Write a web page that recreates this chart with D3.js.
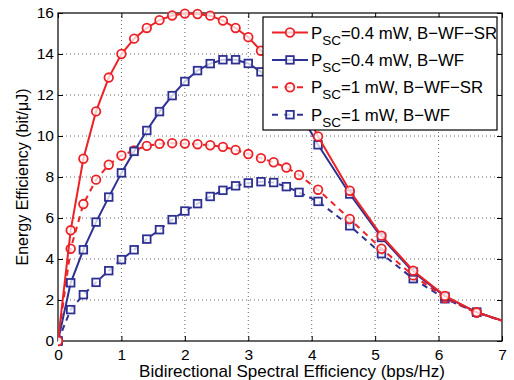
<!DOCTYPE html>
<html>
<head>
<meta charset="utf-8">
<script src="https://cdn.jsdelivr.net/npm/d3@7"></script>
<style>
  body { margin: 0; background: #fff; }
  svg { font-family: "Liberation Sans", Arial, Helvetica, sans-serif; }
</style>
</head>
<body>
<svg id="chart" width="514" height="380"></svg>
<script>
// spectral efficiency samples (bps/Hz)
var xVals = [0, 0.2, 0.4, 0.6, 0.8, 1.0, 1.2, 1.4, 1.6, 1.8, 2.0, 2.2, 2.4, 2.6, 2.8, 3.0, 3.2, 3.4, 3.6, 3.8, 4.1, 4.6, 5.1, 5.6, 6.1, 6.6, 7];

// energy efficiency (bit/uJ)
var redSolid  = [0, 5.4, 8.89, 11.2, 12.85, 14.0, 14.75, 15.27, 15.65, 15.88, 15.97, 15.95, 15.87, 15.63, 15.27, 14.82, 14.16, 13.45, 12.7, 11.85, 9.98, 7.33, 5.14, 3.43, 2.2, 1.4, 1.0];
var blueSolid = [0, 2.84, 4.45, 5.8, 7.02, 8.2, 9.25, 10.27, 11.19, 11.97, 12.66, 13.19, 13.53, 13.72, 13.72, 13.54, 13.13, 12.6, 11.95, 11.2, 9.57, 7.17, 5.05, 3.37, 2.17, 1.4, 1.0];
var redDash   = [0, 4.5, 6.68, 7.87, 8.6, 9.05, 9.3, 9.52, 9.62, 9.65, 9.63, 9.6, 9.55, 9.47, 9.32, 9.12, 8.92, 8.72, 8.46, 8.1, 7.38, 5.95, 4.5, 3.2, 2.1, 1.37, 0.99];
var blueDash  = [0, 1.53, 2.26, 2.86, 3.43, 3.97, 4.45, 4.97, 5.43, 5.92, 6.34, 6.7, 7.05, 7.35, 7.57, 7.71, 7.77, 7.73, 7.53, 7.25, 6.81, 5.62, 4.26, 3.04, 2.06, 1.4, 0.99];

var xTicks = [0, 1, 2, 3, 4, 5, 6, 7];
var yTicks = [0, 2, 4, 6, 8, 10, 12, 14, 16];

var seriesNames = ["=0.4 mW, B\u2212WF\u2212SR", "=0.4 mW, B\u2212WF", "=1 mW, B\u2212WF\u2212SR", "=1 mW, B\u2212WF"];

var RED = "#ec2227", BLUE = "#2e3192";

var series = [
  {name: seriesNames[0], values: redSolid,  color: RED,  dash: null,  marker: "circle"},
  {name: seriesNames[1], values: blueSolid, color: BLUE, dash: null,  marker: "square"},
  {name: seriesNames[2], values: redDash,   color: RED,  dash: "6,5", marker: "circle"},
  {name: seriesNames[3], values: blueDash,  color: BLUE, dash: "6,5", marker: "square"}
];

var margin = {left: 58, right: 12, top: 13, bottom: 39};
var width = 514, height = 380;

var svg = d3.select("#chart");

var x = d3.scaleLinear().domain([0, 7]).range([margin.left, width - margin.right]);
var y = d3.scaleLinear().domain([0, 16]).range([height - margin.bottom, margin.top]);

// dotted grid
var grid = svg.append("g").attr("class", "grid");
grid.selectAll(".gx").data(xTicks.slice(1, -1)).enter().append("line")
  .attr("x1", d => x(d)).attr("x2", d => x(d))
  .attr("y1", y(0)).attr("y2", y(16))
  .attr("stroke", "#666").attr("stroke-width", 1).attr("stroke-dasharray", "1,3");
grid.selectAll(".gy").data(yTicks.slice(1, -1)).enter().append("line")
  .attr("y1", d => y(d)).attr("y2", d => y(d))
  .attr("x1", x(0)).attr("x2", x(7))
  .attr("stroke", "#666").attr("stroke-width", 1).attr("stroke-dasharray", "1,3");

// axes with inward ticks
var fontSize = 15.5;
var xAxis = svg.append("g").attr("transform", "translate(0," + y(0) + ")")
  .call(d3.axisBottom(x).tickValues(xTicks).tickSize(-5).tickPadding(8).tickFormat(d3.format("d")));
var yAxis = svg.append("g").attr("transform", "translate(" + x(0) + ",0)")
  .call(d3.axisLeft(y).tickValues(yTicks).tickSize(-5).tickPadding(4).tickFormat(d3.format("d")));
var xTop = svg.append("g").attr("transform", "translate(0," + y(16) + ")")
  .call(d3.axisTop(x).tickValues(xTicks).tickSize(-5).tickFormat(""));
var yRight = svg.append("g").attr("transform", "translate(" + x(7) + ",0)")
  .call(d3.axisRight(y).tickValues(yTicks).tickSize(-5).tickFormat(""));

[xAxis, yAxis, xTop, yRight].forEach(function(a) {
  a.select(".domain").remove();
  a.selectAll("line").attr("stroke", "#000").attr("stroke-width", 1);
  a.selectAll("text").attr("font-size", fontSize).attr("fill", "#000")
    .attr("font-family", "'Liberation Sans', Arial, sans-serif");
});

// axes box
svg.append("rect")
  .attr("x", x(0)).attr("y", y(16))
  .attr("width", x(7) - x(0)).attr("height", y(0) - y(16))
  .attr("fill", "none").attr("stroke", "#000").attr("stroke-width", 1.2);

var line = d3.line().x((d, i) => x(xVals[i])).y(d => y(d));

svg.append("clipPath").attr("id", "plotclip").append("rect")
  .attr("x", x(0)).attr("y", y(16) - 6).attr("width", x(7) - x(0)).attr("height", y(0) - y(16) + 12);

var plot = svg.append("g").attr("clip-path", "url(#plotclip)");

// draw order: dashed series first so solid sits on top
var drawOrder = [3, 2, 1, 0];
drawOrder.forEach(function(k) {
  var s = series[k];
  var g = plot.append("g");
  g.append("path")
    .datum(s.values)
    .attr("d", line)
    .attr("fill", "none")
    .attr("stroke", s.color)
    .attr("stroke-width", 2)
    .attr("stroke-dasharray", s.dash);
  var pts = s.values.map((v, i) => [xVals[i], v]).filter(p => p[0] < 7);
  drawMarkers(g, pts.map(p => [x(p[0]), y(p[1])]), s);
});

function drawMarkers(g, pts, s) {
  if (s.marker === "circle") {
    g.selectAll(".m").data(pts).enter().append("circle")
      .attr("cx", d => d[0]).attr("cy", d => d[1]).attr("r", 4.3)
      .attr("fill", "rgba(255,255,255,0.75)")
      .attr("stroke", s.color).attr("stroke-width", 1.8);
  } else {
    g.selectAll(".m").data(pts).enter().append("rect")
      .attr("x", d => d[0] - 3.8).attr("y", d => d[1] - 3.8)
      .attr("width", 7.6).attr("height", 7.6)
      .attr("fill", "rgba(255,255,255,0.75)")
      .attr("stroke", s.color).attr("stroke-width", 1.8);
  }
}

// legend
var lg = svg.append("g").attr("transform", "translate(263,17)");
lg.append("rect").attr("width", 234).attr("height", 113)
  .attr("fill", "#fff").attr("stroke", "#000").attr("stroke-width", 1.2);

series.forEach(function(s, i) {
  var cy = 15.5 + i * 27.4;
  var row = lg.append("g");
  row.append("line")
    .attr("x1", 9).attr("x2", 45).attr("y1", cy).attr("y2", cy)
    .attr("stroke", s.color).attr("stroke-width", 2)
    .attr("stroke-dasharray", s.dash ? "6,6.5" : null);
  drawMarkers(row, [[27, cy]], s);
  var t = row.append("text")
    .attr("x", 48).attr("y", cy + 6)
    .attr("font-size", 16.8).attr("fill", "#000");
  t.append("tspan").text("P");
  t.append("tspan").attr("dy", 6).attr("font-size", 13.5).text("SC");
  t.append("tspan").attr("dy", -6).text(s.name);
});

// axis labels
svg.append("text")
  .attr("x", (x(0) + x(7)) / 2 + 12).attr("y", height - 3)
  .attr("text-anchor", "middle").attr("font-size", 17).attr("fill", "#000")
  .text("Bidirectional Spectral Efficiency (bps/Hz)");

svg.append("text")
  .attr("transform", "translate(28," + (y(8)) + ") rotate(-90)")
  .attr("text-anchor", "middle").attr("font-size", 16).attr("fill", "#000")
  .text("Energy Efficiency (bit/\u03bcJ)");
</script>
</body>
</html>
